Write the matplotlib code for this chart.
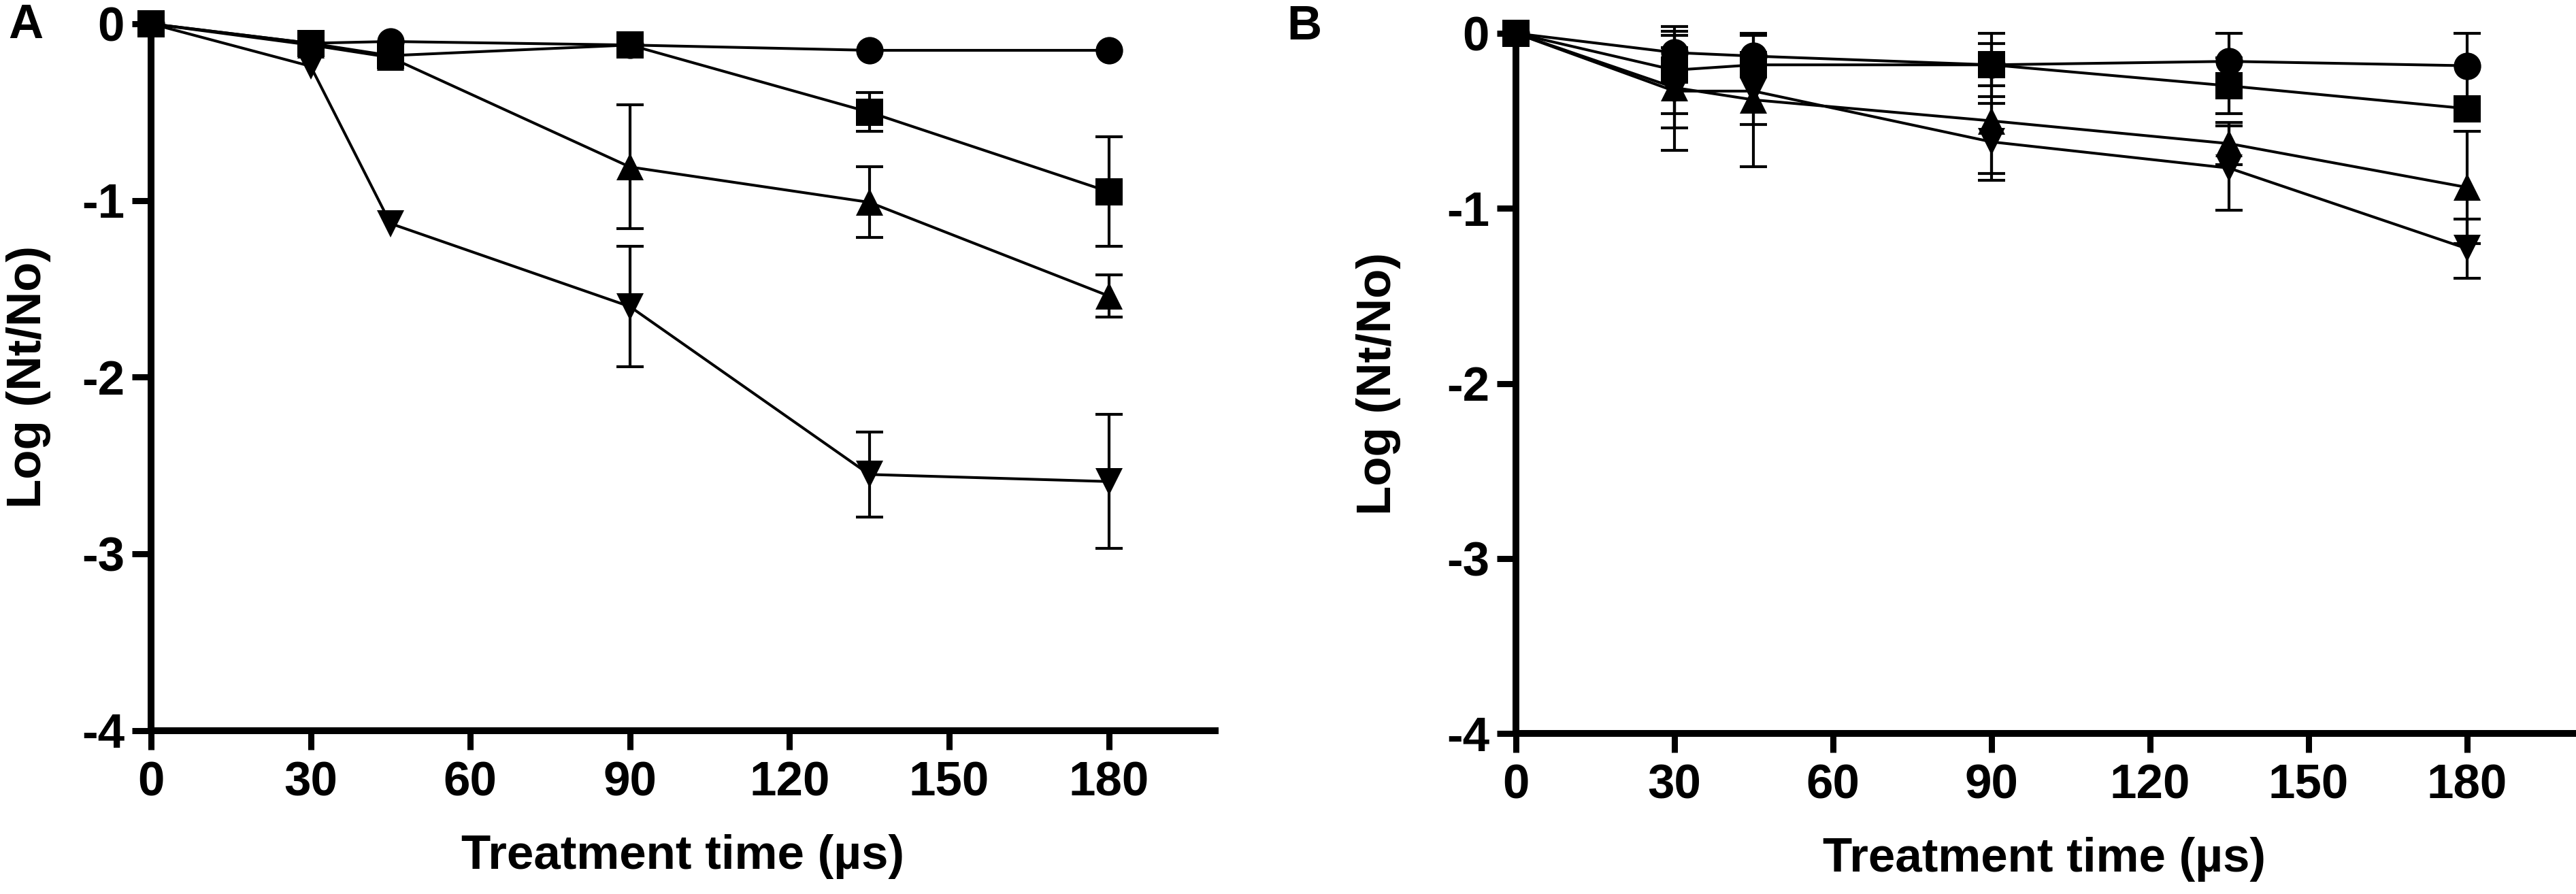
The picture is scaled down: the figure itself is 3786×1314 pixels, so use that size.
import numpy as np
import matplotlib
matplotlib.use("Agg")
import matplotlib.pyplot as plt

plt.rcParams['font.family'] = ['Liberation Sans', 'DejaVu Sans']
plt.rcParams['font.weight'] = 'bold'
plt.rcParams['axes.unicode_minus'] = False

## data: log reduction vs treatment time
times = np.array([0, 30, 45, 90, 135, 180])

# panel A
circ_a = np.array([0, -0.11, -0.10, -0.12, -0.15, -0.15])
circ_a_err = np.array([0, 0, 0, 0, 0, 0])
sq_a = np.array([0, -0.11, -0.18, -0.12, -0.50, -0.95])
sq_a_err = np.array([0, 0, 0, 0, 0.11, 0.31])
up_a = np.array([0, -0.12, -0.19, -0.81, -1.01, -1.54])
up_a_err = np.array([0, 0, 0, 0.35, 0.20, 0.12])
down_a = np.array([0, -0.24, -1.13, -1.60, -2.55, -2.59])
down_a_err = np.array([0, 0, 0, 0.34, 0.24, 0.38])

# panel B
circ_b = np.array([0, -0.11, -0.13, -0.18, -0.16, -0.185])
circ_b_err = np.array([0, 0.10, 0.12, 0.18, 0.16, 0.185])
sq_b = np.array([0, -0.21, -0.18, -0.18, -0.30, -0.43])
sq_b_err = np.array([0, 0.25, 0.05, 0.12, 0.16, 0.05])
up_b = np.array([0, -0.31, -0.38, -0.50, -0.63, -0.88])
up_b_err = np.array([0, 0.23, 0.38, 0.30, 0.12, 0.32])
down_b = np.array([0, -0.33, -0.33, -0.62, -0.77, -1.23])
down_b_err = np.array([0, 0.34, 0.19, 0.22, 0.24, 0.17])

xticks = [0, 30, 60, 90, 120, 150, 180]
yticks = [-4, -3, -2, -1, 0]
ytick_labels = ['-4', '-3', '-2', '-1', '0']

FS = 51


def draw_series(ax, y, err, marker, z):
    mask = err > 0
    if mask.any():
        ax.errorbar(times[mask], y[mask], yerr=err[mask], fmt='none', ecolor='black',
                    elinewidth=3.0, capsize=14.5, capthick=3.0, zorder=z, clip_on=False)
    ax.plot(times, y, color='black', lw=2.9, marker=marker, markersize=29,
            markeredgewidth=0, markerfacecolor='black', zorder=z + 0.5, clip_on=False)


def setup_panel(ax, series, label_x):
    for i, (y, err, m) in enumerate(series):
        draw_series(ax, y, err, m, 3 + i)
    ax.set_xlim(0, 200)
    ax.set_ylim(-4, 0)
    ax.set_xticks(xticks)
    ax.set_yticks(yticks)
    ax.set_yticklabels(ytick_labels)
    for s in ['top', 'right']:
        ax.spines[s].set_visible(False)
    for s in ['left', 'bottom']:
        ax.spines[s].set_linewidth(7.2)
    ax.tick_params(direction='out', length=20, width=6.5, labelsize=FS)
    ax.tick_params(axis='x', pad=12)
    ax.tick_params(axis='y', pad=8)
    ax.set_xlabel('Treatment time (µs)', fontsize=FS, fontweight='bold', labelpad=30)
    ax.set_ylabel('Log (Nt/No)', fontsize=FS, fontweight='bold')
    ax.yaxis.set_label_coords(label_x, 0.5)
    for t in ax.get_xticklabels() + ax.get_yticklabels():
        t.set_fontweight('bold')


fig = plt.figure(figsize=(37.87, 13.14), dpi=100)

ax1 = fig.add_axes([0.05862, 0.18265, 0.41299, 0.79072])
setup_panel(ax1, [(down_a, down_a_err, 'v'), (up_a, up_a_err, '^'),
                  (circ_a, circ_a_err, 'o'), (sq_a, sq_a_err, 's')], -0.094)

ax2 = fig.add_axes([0.58833, 0.17960, 0.41009, 0.78311])
setup_panel(ax2, [(down_b, down_b_err, 'v'), (up_b, up_b_err, '^'),
                  (circ_b, circ_b_err, 'o'), (sq_b, sq_b_err, 's')], -0.109)

fig.text(0.0100, 0.9711, 'A', fontsize=FS, fontweight='bold', ha='center', va='center')
fig.text(0.5062, 0.9696, 'B', fontsize=FS, fontweight='bold', ha='center', va='center')

fig.savefig('out.png', dpi=100)
